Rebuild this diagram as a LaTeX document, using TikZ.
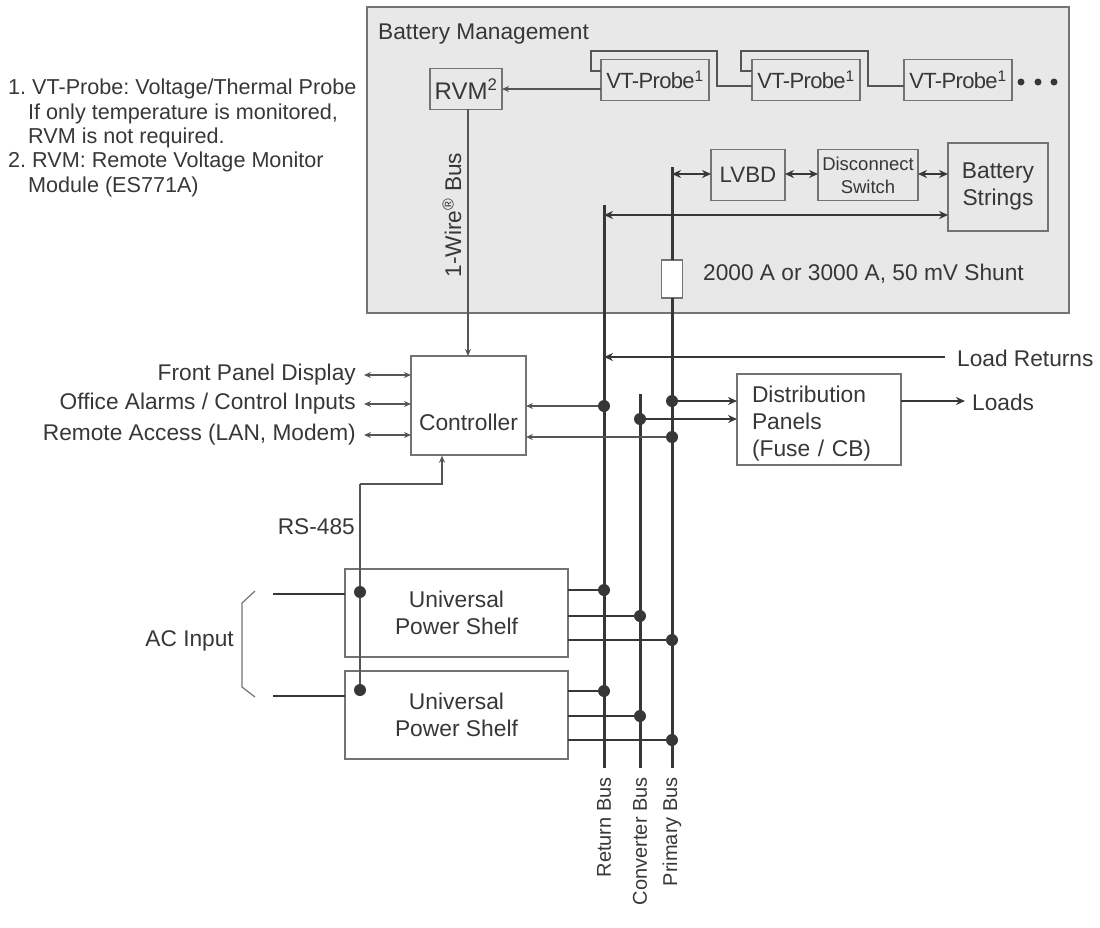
\documentclass[tikz,border=0pt]{standalone}
\usepackage{fontspec}
\setmainfont{Liberation Sans}
\usetikzlibrary{arrows.meta,positioning}
\definecolor{bmgray}{RGB}{232,232,232}
\definecolor{edgegray}{RGB}{115,115,115}
\definecolor{inkgray}{RGB}{55,55,55}
\definecolor{wiregray}{RGB}{85,85,85}
\tikzstyle{unitbox} = [rectangle, draw=edgegray, line width=1.4pt, inner sep=0pt, outer sep=0pt, align=center, text=inkgray]
\tikzstyle{label} = [inner sep=0pt, text=inkgray, font=\fontsize{22.7}{24}\selectfont]
\tikzstyle{notetext} = [label, anchor=west, font=\fontsize{21.6}{24}\selectfont]
\tikzstyle{buslabel} = [label, rotate=90, anchor=east, font=\fontsize{20}{24}\selectfont]
\tikzstyle{boxtext} = [font=\fontsize{22.8}{27}\selectfont]
\tikzstyle{probe} = [unitbox, minimum width=108pt, minimum height=41pt, font=\fontsize{22}{24}\selectfont]
\tikzstyle{shelf} = [unitbox, minimum width=223pt, minimum height=88pt, boxtext]
\tikzstyle{bus} = [line width=3pt, color=inkgray]
\tikzstyle{feed} = [line width=2.4pt, color=inkgray]
\tikzstyle{wire} = [line width=1.2pt, color=wiregray]
\tikzstyle{sig} = [wire,-{Stealth[length=7pt,width=6pt]}]
\tikzstyle{sigboth} = [wire,{Stealth[length=7pt,width=6pt]}-{Stealth[length=7pt,width=6pt]}]
\tikzstyle{power} = [line width=2.4pt, color=inkgray,-{Stealth[length=9pt,width=8pt]}]
\tikzstyle{powerboth} = [line width=2.4pt, color=inkgray,{Stealth[length=9pt,width=8pt]}-{Stealth[length=9pt,width=8pt]}]
\tikzstyle{busdot} = [circle, fill=inkgray, inner sep=0pt, minimum size=12pt]
\tikzstyle{endpt} = [circle, fill=inkgray, inner sep=0pt, minimum size=7pt]
\newcommand{\sq}{\addfontfeature{LetterSpace=-3}}
\begin{document}
\frenchspacing
\begin{tikzpicture}[x=1pt, y=-1pt]
\useasboundingbox (0,0) rectangle (1100,927);
% Battery management area
\node (bm) [rectangle, draw=edgegray, line width=1.6pt, fill=bmgray, minimum width=702pt, minimum height=306pt, inner sep=0pt, outer sep=0pt] at (718,160) {};
\node (bmlabel) [label, anchor=west] at (378,34) {Battery Management};

% Notes
\node (note1) [notetext] at (8,89) {1. VT-Probe: Voltage/Thermal Probe};
\node (note1a) [notetext] at (28,114) {If only temperature is monitored,};
\node (note1b) [notetext] at (28,138) {RVM is not required.};
\node (note2) [notetext] at (8,162) {2. RVM: Remote Voltage Monitor};
\node (note2a) [notetext] at (28,187) {Module (ES771A)};

% Probes
\node (rvm) [unitbox, minimum width=72pt, minimum height=41pt, font=\fontsize{24}{24}\selectfont] at (466,89) {RVM\textsuperscript{2}};
\node (probea) [probe] at (655,80) {\sq VT-Probe\textsuperscript{1}};
\node (probeb) [probe] at (806,80) {\sq VT-Probe\textsuperscript{1}};
\node (probec) [probe] at (958,80) {\sq VT-Probe\textsuperscript{1}};
\node (dota) [endpt] at (1021,82) {};
\node (dotb) [endpt] at (1038,82) {};
\node (dotc) [endpt] at (1054,82) {};

% Probe chain
\draw[sig] (probea.west |- 0,89) -- (rvm.east |- 0,89);
\draw[wire] (probea.west |- 0,71) -- (591,71) -- (591,51) -- (717,51) -- (717,86) -- (probeb.west |- 0,86);
\draw[wire] (probeb.west |- 0,71) -- (741,71) -- (741,51) -- (868,51) -- (868,86) -- (probec.west |- 0,86);

% Battery row
\node (lvbd) [unitbox, minimum width=74pt, minimum height=51pt, font=\fontsize{22.3}{24}\selectfont] at (748,175) {LVBD};
\node (disc) [unitbox, minimum width=100pt, minimum height=51pt, font=\fontsize{18.5}{23}\selectfont] at (868,175) {Disconnect\\Switch};
\node (batt) [unitbox, minimum width=100pt, minimum height=88pt, boxtext] at (998,187) {Battery\\Strings};
\node (shunt) [rectangle, draw=edgegray, line width=1.4pt, fill=white, minimum width=21pt, minimum height=38pt, inner sep=0pt, outer sep=0pt] at (672,279) {};
\node (shuntlabel) [label, anchor=west] at (703,274) {2000 A or 3000 A, 50 mV Shunt};

% Controller and panels
\node (ctrl) [unitbox, minimum width=115pt, minimum height=99pt, font=\fontsize{22.8}{24}\selectfont] at (468.5,405.5) {\raisebox{-25pt}[0pt][0pt]{Controller}};
\node (dist) [unitbox, minimum width=164pt, minimum height=91pt, boxtext, align=left, inner xsep=15pt, text width=134pt] at (819,419.5) {\rule{0pt}{24pt}Distribution\\Panels\\(Fuse / CB)};
\node (shelfa) [shelf] at (456.5,613) {Universal\\Power Shelf};
\node (shelfb) [shelf] at (456.5,715) {Universal\\Power Shelf};

% Bus ends
\coordinate (rettop) at (604,205);
\coordinate (retbot) at (604,768);
\coordinate (contop) at (640,394);
\coordinate (conbot) at (640,768);
\coordinate (pritop) at (672,167);
\coordinate (pribot) at (672,768);
\draw[bus] (rettop) -- (retbot);
\draw[bus] (contop) -- (conbot);
\draw[bus] (pritop) -- (shunt.north);
\draw[bus] (shunt.south) -- (pribot);

% Bus to battery row
\draw[powerboth] (pritop |- 0,174) -- (lvbd.west |- 0,174);
\draw[powerboth] (lvbd.east |- 0,174) -- (disc.west |- 0,174);
\draw[powerboth] (disc.east |- 0,174) -- (batt.west |- 0,174);
\draw[powerboth] (rettop |- 0,215) -- (batt.west |- 0,215);

% Bus junctions
\node (retctl) [busdot] at (604,406) {};
\node (prictl) [busdot] at (672,437) {};
\node (pridist) [busdot] at (672,401) {};
\node (condist) [busdot] at (640,419) {};
\node (reta) [busdot] at (604,590) {};
\node (cona) [busdot] at (640,616) {};
\node (pria) [busdot] at (672,640) {};
\node (retb) [busdot] at (604,691) {};
\node (conb) [busdot] at (640,716) {};
\node (prib) [busdot] at (672,740) {};

\draw[sig] (retctl) -- (ctrl.east |- retctl);
\draw[sig] (prictl) -- (ctrl.east |- prictl);
\draw[power] (pridist) -- (dist.west |- pridist);
\draw[power] (condist) -- (dist.west |- condist);

% Shelf outputs
\foreach \dotname in {reta,cona,pria}
  \draw[feed] (shelfa.east |- \dotname) -- (\dotname);
\foreach \dotname in {retb,conb,prib}
  \draw[feed] (shelfb.east |- \dotname) -- (\dotname);

% Load side
\coordinate (loadret) at (945,357);
\coordinate (loadend) at (965,401);
\node (loadretlabel) [label, anchor=west] at (957,358) {Load Returns};
\node (loadlabel) [label, anchor=west] at (972,402) {Loads};
\draw[power] (loadret) -- (rettop |- loadret);
\draw[power] (dist.east |- loadend) -- (loadend);

% Controller links
\coordinate (wiretop) at (468,109);
\draw[sig] (wiretop) -- (wiretop |- ctrl.north);
\node (wirelabel) [label, rotate=90] at (452,215) {1-Wire\textsuperscript{\textregistered} Bus};
\node (frontlabel) [label, anchor=east] at (356,375) {Front Panel Display};
\node (officelabel) [label, anchor=east] at (356,404) {Office Alarms / Control Inputs};
\node (remotelabel) [label, anchor=east] at (356,435) {Remote Access (LAN, Modem)};
\draw[sigboth] (364,375) -- (ctrl.west |- 0,375);
\draw[sigboth] (364,404) -- (ctrl.west |- 0,404);
\draw[sigboth] (364,435) -- (ctrl.west |- 0,435);

% RS-485 and AC
\node (rsa) [busdot] at (360,592) {};
\node (rsb) [busdot] at (360,690) {};
\coordinate (rscorner) at (360,484);
\node (rslabel) [label, anchor=east] at (355,527) {RS-485};
\draw[wire] (rsb) -- (rsa) -- (rscorner);
\draw[sig] (rscorner) -- (442,484) -- (442,455.7);
\coordinate (aca) at (273,594);
\coordinate (acb) at (273,696);
\draw[feed] (aca) -- (shelfa.west |- aca);
\draw[feed] (acb) -- (shelfb.west |- acb);
\draw[line width=1.2pt, color=edgegray] (255,591) -- (242,603) -- (242,687) -- (255,697);
\node (aclabel) [label, anchor=east] at (234,641) {AC Input};

% Bus labels
\node (retlabel) [buslabel] at (604,777) {Return Bus};
\node (conlabel) [buslabel] at (640,777) {Converter Bus};
\node (prilabel) [buslabel] at (672,777) {Primary Bus};
\end{tikzpicture}
\end{document}
